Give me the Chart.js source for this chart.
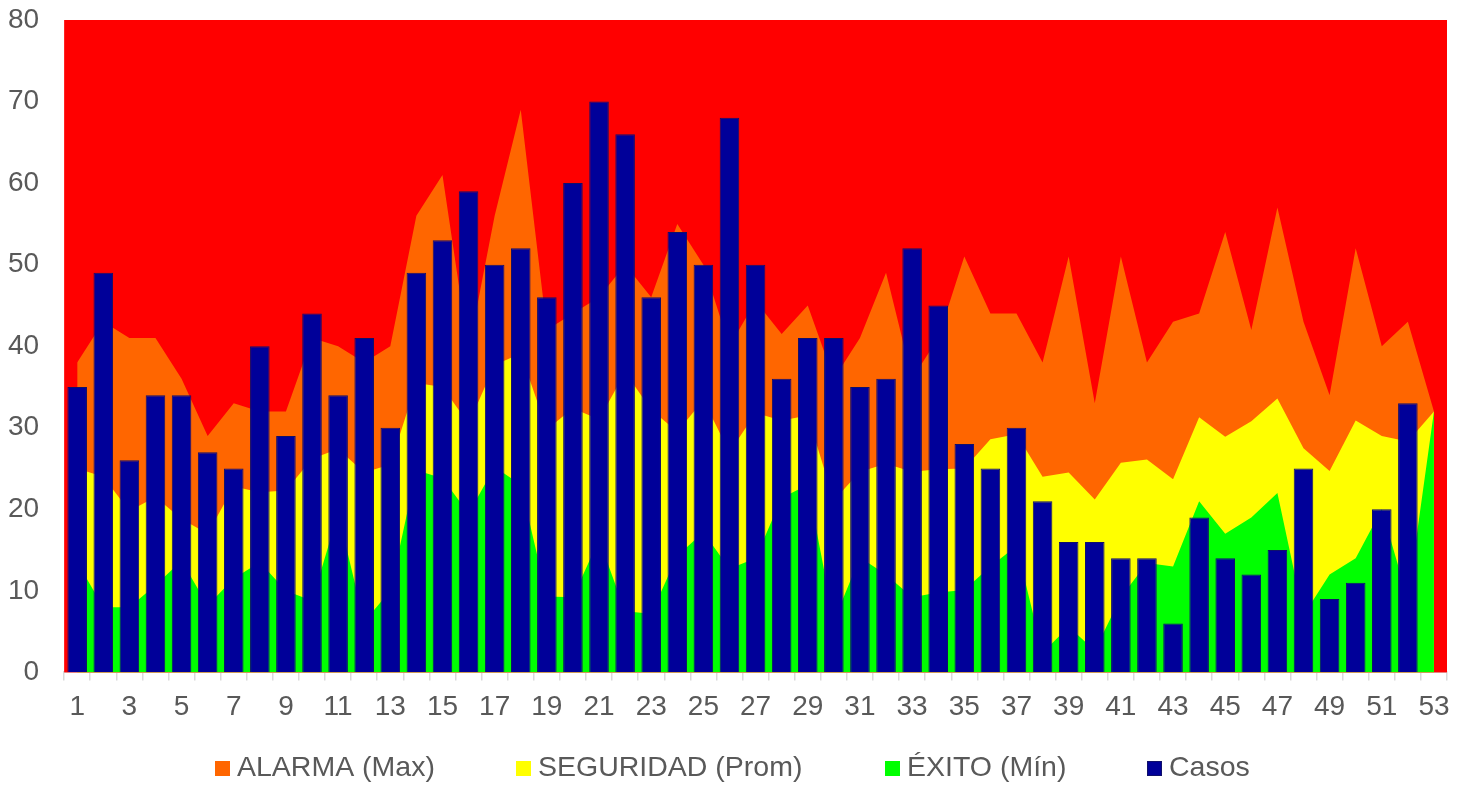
<!DOCTYPE html>
<html>
<head>
<meta charset="utf-8">
<script src="https://cdn.jsdelivr.net/npm/chart.js@4.4.1/dist/chart.umd.min.js"></script>
<style>
  html, body { margin: 0; padding: 0; background: #ffffff; }
  #wrap { position: relative; width: 1469px; height: 787px; }
</style>
</head>
<body>
<div id="wrap"><canvas id="c" width="1469" height="787"></canvas></div>
<script>
const weeks = [];
for (let i = 1; i <= 53; i++) weeks.push(String(i));

const yTicks = [0, 10, 20, 30, 40, 50, 60, 70, 80];

const alarmaMax = [38,43,41,41,36,29,33,32,32,41,40,38,40,56,61,39.5,56,69,42,44,46,50,46,55,50,40,45.5,41.5,45,36,41,49,36,41,51,44,44,38,51,33,51,38,43,44,54,42,57,43,34,52,40,43,32];

const seguridadProm = [25,24,19.8,21.5,18.8,17,22.8,22.1,22.3,26.2,27.4,24.5,25.5,35.5,35,30.5,37.7,39.1,29.8,32.4,31,36.8,32.2,29.5,33.4,27,31.8,30.9,31.5,21.1,24.6,25.6,24.6,24.9,25,28.6,29.2,24,24.5,21.2,25.7,26.1,23.7,31.3,28.9,30.8,33.6,27.5,24.7,30.9,29,28.3,32];

const exitoMin = [13.5,8,8,10.7,13.7,8.2,11.5,13.5,10,8.8,19.5,6.2,10,24.8,23.8,19.5,25.2,23,9.3,9.2,16.3,7.5,7.2,14.3,17.2,12.7,14,21.4,23,6.3,14.1,12,9.2,9.8,10.1,13,15.5,2.4,5.6,2.7,9.2,13.4,13,21,17,19,22,7,12,14,20,9,32];

const casos = [35,49,26,34,34,27,25,40,29,44,34,41,30,49,53,59,50,52,46,60,70,66,46,54,50,68,50,36,41,41,35,36,52,45,28,25,30,21,16,16,14,14,6,19,14,12,15,25,9,11,20,33,null];

const FONT = "'Liberation Sans', Arial, sans-serif";
const TEXT = '#595959';

// red "epidemic" zone behind everything
const redZone = {
  id: 'redZone',
  beforeDatasetsDraw(chart) {
    const a = chart.chartArea, ctx = chart.ctx;
    ctx.save();
    ctx.fillStyle = '#FF0000';
    ctx.fillRect(a.left, a.top, a.right - a.left, a.bottom - a.top);
    ctx.restore();
  }
};

// legend drawn from the datasets, spaced like the original
const legendSlots = [215, 516, 885, 1147];
const spacedLegend = {
  id: 'spacedLegend',
  afterDraw(chart) {
    const ctx = chart.ctx;
    const yMid = 768.5, box = 15;
    ctx.save();
    ctx.font = '28.5px ' + FONT;
    ctx.textBaseline = 'middle';
    ctx.textAlign = 'left';
    chart.data.datasets.forEach((ds, i) => {
      const x = legendSlots[i];
      ctx.fillStyle = ds.backgroundColor;
      ctx.fillRect(x, yMid - box / 2, box, box);
      if (ds.type === 'bar') {
        ctx.strokeStyle = ds.borderColor;
        ctx.lineWidth = 1;
        ctx.strokeRect(x + 0.5, yMid - box / 2 + 0.5, box - 1, box - 1);
      }
      ctx.fillStyle = TEXT;
      ctx.fillText(ds.label, x + 22, yMid);
    });
    ctx.restore();
  }
};

function area(label, data, color, order) {
  return {
    type: 'line', label, data, order,
    backgroundColor: color, borderColor: color, borderWidth: 0,
    pointRadius: 0, pointHoverRadius: 0, tension: 0, fill: 'origin'
  };
}

new Chart(document.getElementById('c'), {
  data: {
    labels: weeks,
    datasets: [
      area('ALARMA (Max)', alarmaMax, '#FF6600', 3),
      area('SEGURIDAD (Prom)', seguridadProm, '#FFFF00', 2),
      area('ÉXITO (Mín)', exitoMin, '#00FF00', 1),
      {
        type: 'bar', label: 'Casos', data: casos, order: 0,
        backgroundColor: '#000099', borderColor: '#10106a', borderWidth: 1,
        categoryPercentage: 1.0, barPercentage: 0.75
      }
    ]
  },
  options: {
    responsive: false,
    animation: false,
    layout: { padding: { left: 3, right: 22, top: 20, bottom: 53 } },
    plugins: {
      tooltip: { enabled: false },
      legend: { display: false }
    },
    scales: {
      x: {
        type: 'category',
        offset: true,
        grid: { display: true, drawOnChartArea: false, drawTicks: true, tickLength: 8, color: '#d9d9d9', lineWidth: 1.5, offset: true },
        border: { display: true, color: '#d9d9d9', width: 2 },
        ticks: {
          font: { family: FONT, size: 28 }, color: TEXT,
          autoSkip: false, maxRotation: 0, minRotation: 0, padding: 10,
          callback: function(v, i) { return (i % 2 === 0) ? weeks[i] : ''; }
        }
      },
      y: {
        min: yTicks[0], max: yTicks[yTicks.length - 1],
        grid: { display: true, drawOnChartArea: false, drawTicks: true, tickLength: 20, color: 'rgba(0,0,0,0)' },
        border: { display: false },
        afterBuildTicks(scale) { scale.ticks = yTicks.map(v => ({ value: v })); },
        ticks: { font: { family: FONT, size: 28, lineHeight: 1 }, color: TEXT, padding: 5 }
      }
    }
  },
  plugins: [redZone, spacedLegend]
});
</script>
</body>
</html>
